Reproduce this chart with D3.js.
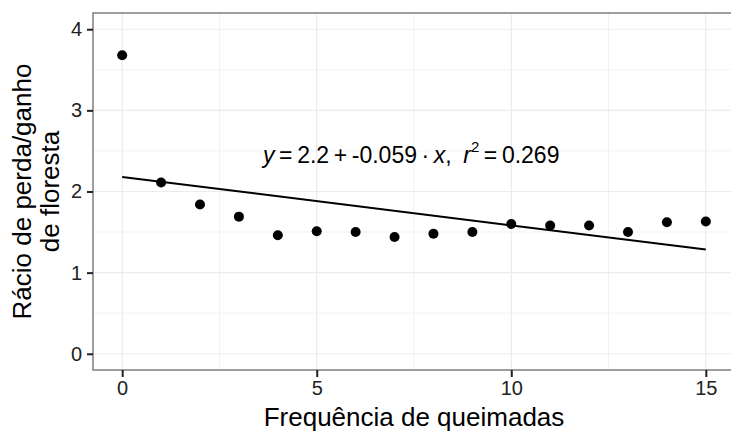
<!DOCTYPE html>
<html><head><meta charset="utf-8">
<script src="https://cdn.jsdelivr.net/npm/d3@7"></script>
<style>body{margin:0;background:#fff}svg{display:block}text{font-family:"Liberation Sans",Arial,sans-serif}</style>
</head><body>
<svg id="c" width="731" height="432"></svg>
<script>
const freq = [0,1,2,3,4,5,6,7,8,9,10,11,12,13,14,15];
const ratio = [3.68,2.11,1.84,1.69,1.46,1.51,1.50,1.44,1.48,1.50,1.60,1.58,1.58,1.50,1.62,1.63];
const xTicks = [0,5,10,15];
const yTicks = [0,1,2,3,4];
const xTitle = "Frequência de queimadas";
const yTitle = ["Rácio de perda/ganho","de floresta"];

const svg = d3.select("#c");
const L=93, R=735, T=13, B=370;
const x = d3.scaleLinear().domain([-0.75,15.75]).range([L,R]);
const y = d3.scaleLinear().domain([-0.2,4.2]).range([B,T]);

// grid
const g = svg.append("g");
[2.5,7.5,12.5].forEach(v=>g.append("line").attr("x1",x(v)).attr("x2",x(v)).attr("y1",T).attr("y2",B).attr("stroke","#f2f2f2").attr("stroke-width",1));
[0.5,1.5,2.5,3.5].forEach(v=>g.append("line").attr("y1",y(v)).attr("y2",y(v)).attr("x1",L).attr("x2",R).attr("stroke","#f2f2f2").attr("stroke-width",1));
xTicks.forEach(v=>g.append("line").attr("x1",x(v)).attr("x2",x(v)).attr("y1",T).attr("y2",B).attr("stroke","#ebebeb").attr("stroke-width",1.2));
yTicks.forEach(v=>g.append("line").attr("y1",y(v)).attr("y2",y(v)).attr("x1",L).attr("x2",R).attr("stroke","#ebebeb").attr("stroke-width",1.2));

// regression
const mx=d3.mean(freq), my=d3.mean(ratio);
const sxy=d3.sum(freq,(v,i)=>(v-mx)*(ratio[i]-my)), sxx=d3.sum(freq,v=>(v-mx)*(v-mx));
const slope=sxy/sxx, icpt=my-slope*mx;
const ext=d3.extent(freq);
svg.append("path").attr("d",d3.line()(ext.map(v=>[x(v),y(icpt+slope*v)])))
  .attr("stroke","#000").attr("stroke-width",2).attr("fill","none");

// points
svg.append("g").selectAll("circle").data(freq).join("circle")
  .attr("cx",d=>x(d)).attr("cy",(d,i)=>y(ratio[i])).attr("r",5).attr("fill","#000");

// equation
const eq = svg.append("text").attr("x",263).attr("y",163).attr("font-size",23).attr("fill","#000").attr("xml:space","preserve");
eq.append("tspan").attr("font-style","italic").text("y");
eq.append("tspan").text("\u2009=\u20092.2\u2009+\u2009-0.059\u2009·\u2009");
eq.append("tspan").attr("font-style","italic").text("x");
eq.append("tspan").text(",\u2002");
eq.append("tspan").attr("font-style","italic").text("r");
eq.append("tspan").attr("font-size",15).attr("dy",-11).text("2");
eq.append("tspan").attr("dy",11).text("\u2009=\u20090.269");

// border
svg.append("path").attr("d",`M${R},${T}H${L}V${B}H${R}`).attr("fill","none").attr("stroke","#7f7f7f").attr("stroke-width",1.5);

// axes
const xa = svg.append("g").attr("transform",`translate(0,${B})`)
  .call(d3.axisBottom(x).tickValues(xTicks).tickFormat(d3.format("d")).tickSize(7).tickPadding(4));
const ya = svg.append("g").attr("transform",`translate(${L},0)`)
  .call(d3.axisLeft(y).tickValues(yTicks).tickFormat(d3.format("d")).tickSize(6).tickPadding(5));
[xa,ya].forEach(a=>{a.select(".domain").remove();
  a.selectAll(".tick line").attr("stroke","#222").attr("stroke-width",2);
  a.selectAll(".tick text").attr("font-size",20).attr("fill","#222").attr("font-family","Liberation Sans, Arial, sans-serif");});

svg.append("text").attr("x",414).attr("y",426).attr("text-anchor","middle").attr("font-size",26).attr("fill","#000").text(xTitle);
const yt = svg.append("text").attr("transform",`translate(0,${(T+B)/2}) rotate(-90)`).attr("text-anchor","middle").attr("font-size",26).attr("fill","#000");
yt.append("tspan").attr("x",0).attr("y",31).text(yTitle[0]);
yt.append("tspan").attr("x",0).attr("y",59).text(yTitle[1]);
</script>
</body></html>
